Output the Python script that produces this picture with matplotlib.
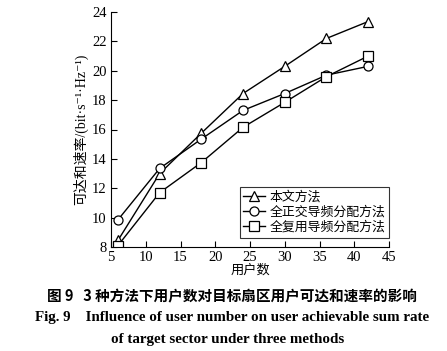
import numpy as np
import matplotlib.pyplot as plt

plt.rcParams['font.family'] = ['Liberation Serif', 'Noto Sans CJK SC', 'DejaVu Sans']

users = [6, 12, 18, 24, 30, 36, 42]
rate_prop = [8.45, 13.0, 15.75, 18.45, 20.3, 22.2, 23.35]
rate_orth = [9.85, 13.35, 15.35, 17.3, 18.45, 19.7, 20.3]
rate_reuse = [8.1, 11.7, 13.75, 16.15, 17.85, 19.6, 21.0]
labels = ['本文方法', '全正交导频分配方法', '全复用导频分配方法']

fig = plt.figure(figsize=(4.47, 3.51), dpi=100)
ax = fig.add_axes([111/447, 1 - 247/351, (389 - 111)/447, (247 - 12)/351])

kw = dict(color='black', lw=1.0, mfc='white', mec='black', mew=0.9, ms=6.5)
ax.plot(users, rate_prop, marker='^', label=labels[0], **kw)
ax.plot(users, rate_orth, marker='o', label=labels[1], **kw)
ax.plot(users, rate_reuse, marker='s', label=labels[2], **kw)

ax.set_xlim(5, 45)
ax.set_ylim(8, 24)
ax.set_xticks(np.arange(5, 46, 5))
ax.set_yticks(np.arange(8, 25, 2))
ax.spines['top'].set_visible(False)
ax.spines['right'].set_visible(False)
ax.tick_params(direction='in', length=4, width=0.8, labelsize=10.5, pad=3)

ax.set_xlabel('用户数', fontsize=9.5, labelpad=0)
ax.set_ylabel('可达和速率/(bit·s⁻¹·Hz⁻¹)', fontsize=10, labelpad=3)

leg = ax.legend(loc='lower right', bbox_to_anchor=(1.0, 0.04), fontsize=9.3,
                frameon=True, fancybox=False, edgecolor='black',
                handlelength=1.7, handletextpad=0.3, labelspacing=0.2,
                borderpad=0.3, borderaxespad=0)
leg.get_frame().set_linewidth(0.8)

fig.text(0.518, 1 - 296/351, '图 9   3 种方法下用户数对目标扇区用户可达和速率的影响',
         ha='center', va='center', fontsize=10.5, fontweight='bold',
         family=['Noto Sans CJK SC'])
fig.text(0.52, 1 - 317/351, 'Fig. 9    Influence of user number on user achievable sum rate',
         ha='center', va='center', fontsize=10.8, fontweight='bold')
fig.text(0.51, 1 - 339/351, 'of target sector under three methods',
         ha='center', va='center', fontsize=10.8, fontweight='bold')

fig.savefig('out.png', dpi=100)
